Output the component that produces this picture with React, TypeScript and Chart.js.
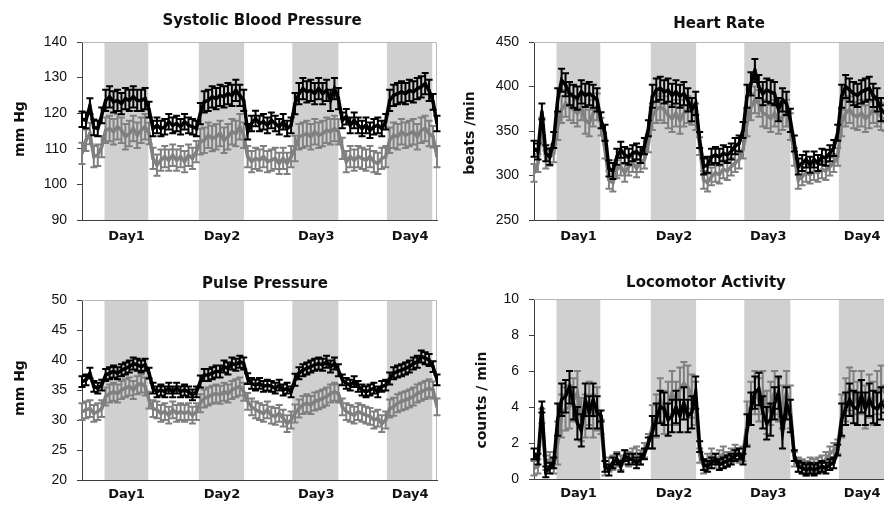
import React, { useEffect, useRef } from 'react';
import { Chart, registerables } from 'chart.js';
Chart.register(...registerables);

// ---------- data ----------
const HOURS = Array.from({ length: 91 }, (_, i) => i);
const DARK_START = [5.7, 29.6, 53.3, 77.3];
const DARK_END = [16.8, 41.1, 65.0, 88.8];
const DAY_LABELS = ['Day1', 'Day2', 'Day3', 'Day4'];
const DAY_TICKS = [11.3, 35.5, 59.4, 83.2];

const SBP_BLACK = [118.3, 118, 122, 116, 115.7, 119.4,
  123.6, 124.6, 123.2, 123.6, 122.7, 124.1, 123.6, 124.6, 123.6, 123.6, 124.1,
  121, 115.7, 116.6, 115.7, 116.2, 117.6, 116.6, 117.1, 116.2, 117.6, 116.6, 116.2, 115.7,
  119.9, 123.2, 123.6, 124.6, 124.1, 125, 124.6, 125.5, 125, 126.4, 125, 123.6,
  114.8, 117.1, 118.5, 117.1, 117.6, 116.6, 118, 117.1, 116.2, 117.6, 115.7, 116.6,
  122.7, 125.5, 126.9, 126, 126.4, 125.5, 126.9, 125.5, 126.4, 123.6, 126.9, 124.1,
  118, 119, 116.6, 118, 116.6, 115.7, 116.6, 115.2, 116.2, 116.6, 115.7, 117.6,
  123.6, 125, 125.5, 126, 125.5, 126.4, 126, 126.9, 127.4, 128.3, 126.4, 123.2, 117.1];
const SBP_GRAY = [108.7, 112.4, 114.3, 107.8, 108.2, 110.6,
  115.2, 115.7, 114.8, 116.2, 115.2, 113.4, 114.3, 115.7, 113.8, 115.2, 116.2,
  114.3, 107.3, 105.4, 106.8, 107.8, 106.8, 108.2, 106.8, 107.8, 106.4, 108.2, 107.3, 109.2,
  112, 112.4, 113.8, 112.9, 113.4, 114.3, 112.4, 113.4, 114.8, 114.3, 116.2, 113.8,
  107.8, 106.4, 107.3, 106.8, 107.8, 106.4, 106.8, 107.3, 105.9, 107.3, 105.9, 107.8,
  110.1, 113.4, 113.8, 114.3, 113.4, 114.8, 113.8, 114.3, 115.2, 114.8, 115.7, 114.8,
  110.1, 106.4, 107.8, 106.8, 107.8, 107.3, 106.8, 107.8, 106.4, 105.9, 107.3, 107.8,
  112.4, 113.8, 113.4, 114.8, 113.8, 114.3, 114.8, 113.4, 115.2, 115.7, 114.3, 113.4, 107.8];
const SBP_SEM_BLACK = [2.2, 3.0]; // [light, dark]
const SBP_SEM_GRAY = [3.0, 3.6];

const HR_BLACK = [330, 327, 372, 325, 321, 340,
  385, 407, 402, 392, 389, 387, 394, 390, 392, 389, 385,
  362, 348, 308, 305, 321, 329, 323, 321, 325, 327, 323, 333, 353,
  389, 396, 398, 394, 396, 390, 394, 389, 392, 385, 374, 381,
  340, 310, 312, 321, 323, 321, 325, 323, 327, 333, 336, 351,
  389, 403, 418, 400, 392, 396, 394, 392, 374, 385, 381, 362,
  336, 310, 314, 318, 312, 318, 314, 321, 320, 325, 331, 348,
  389, 400, 396, 392, 390, 394, 396, 398, 390, 385, 374, 370, 365];
const HR_GRAY = [303, 314, 355, 318, 321, 325,
  355, 374, 381, 377, 374, 370, 377, 362, 359, 370, 377,
  355, 329, 295, 292, 307, 310, 303, 310, 314, 308, 314, 318, 336,
  366, 374, 377, 374, 368, 364, 370, 362, 370, 374, 372, 366,
  333, 295, 292, 299, 303, 301, 307, 305, 310, 314, 318, 329,
  359, 377, 385, 381, 370, 368, 364, 370, 362, 366, 370, 355,
  321, 295, 299, 303, 301, 305, 303, 307, 305, 310, 314, 321,
  359, 370, 374, 368, 366, 370, 364, 368, 374, 370, 366, 360, 355];
const HR_SEM_BLACK = [9, 13];
const HR_SEM_GRAY = [10, 15];

const PP_BLACK = [36.4, 36.7, 37.8, 35.6, 35.3, 35.8,
  37.5, 37.8, 38.1, 37.8, 38.3, 38.6, 38.9, 39.4, 39.2, 38.9, 39.2,
  37.8, 35.3, 34.7, 35, 34.7, 35.3, 34.7, 35.3, 34.7, 35, 34.7, 34.2, 34.7,
  36.4, 37.5, 37.5, 37.8, 38.1, 38.1, 38.9, 38.6, 39.4, 39.2, 39.7, 39.4,
  36.9, 36.1, 35.8, 36.1, 35.6, 35.8, 35.6, 35.3, 35.8, 35, 35.3, 34.7,
  36.7, 37.8, 38.3, 38.6, 38.9, 39.2, 39.4, 39.2, 39.7, 38.9, 39.4, 38.3,
  36.7, 36.1, 35.8, 36.4, 35.6, 35, 34.7, 35, 35.3, 34.7, 35.6, 35.8,
  36.9, 37.8, 38.1, 38.3, 38.6, 38.9, 39.4, 39.7, 40.6, 40.3, 40, 38.9, 36.7];
const PP_GRAY = [31.4, 31.7, 31.9, 31.1, 31.4, 31.9,
  33.9, 34.4, 34.7, 34.4, 35, 35.3, 35.6, 35, 35.8, 36.1, 35.6,
  33.3, 31.9, 31.7, 31.1, 31.4, 30.8, 31.7, 31.1, 31.4, 31.1, 31.4, 30.8, 31.4,
  32.8, 33.6, 33.9, 34.2, 34.4, 34.2, 34.7, 34.4, 35, 35.3, 35.6, 34.7,
  33.1, 32.2, 31.7, 31.4, 31.1, 31.7, 30.8, 30.6, 31.1, 30.3, 29.4, 30,
  31.1, 31.9, 32.5, 32.8, 32.5, 33.1, 33.3, 33.6, 33.9, 34.4, 34.7, 34.4,
  32.2, 31.4, 31.1, 30.8, 31.4, 31.1, 30.8, 30.6, 30, 30.3, 29.4, 30,
  31.9, 32.2, 32.8, 33.1, 33.3, 33.6, 33.9, 34.4, 34.7, 35, 35.3, 35, 32.2];
const PP_SEM_BLACK = [0.9, 1.0];
const PP_SEM_GRAY = [1.4, 1.5];

const LA_BLACK = [1.4, 1.1, 4.0, 0.4, 0.6, 0.9,
  3.3, 4.4, 4.6, 5.1, 4.2, 3.1, 2.7, 4.4, 3.7, 4.4, 3.7,
  3.5, 0.7, 0.5, 0.9, 1.1, 0.7, 1.3, 1.1, 1.1, 0.9, 1.1, 1.4, 2.0,
  2.6, 3.3, 4.0, 3.9, 3.3, 3.5, 4.0, 3.5, 4.2, 3.5, 3.7, 4.8,
  1.8, 0.8, 0.7, 0.9, 1.1, 0.8, 0.9, 1.0, 1.1, 1.3, 1.4, 1.1,
  2.7, 3.9, 4.8, 5.0, 3.7, 3.1, 3.3, 4.2, 4.8, 2.6, 4.2, 3.5,
  1.3, 0.7, 0.6, 0.5, 0.6, 0.5, 0.6, 0.7, 0.6, 0.8, 0.9, 1.6,
  3.3, 3.9, 4.4, 4.0, 3.9, 4.6, 3.9, 4.4, 4.0, 3.9, 4.2, 4.0, 3.8];
const LA_GRAY = [0.6, 0.7, 3.5, 0.9, 1.1, 0.7,
  2.0, 3.5, 3.9, 4.0, 4.4, 4.8, 3.3, 3.5, 4.2, 3.5, 3.9,
  2.9, 0.6, 0.8, 0.9, 1.1, 0.9, 1.2, 1.1, 1.3, 1.4, 1.2, 1.6, 2.1,
  2.9, 3.5, 4.4, 3.7, 4.2, 4.8, 4.2, 5.0, 5.3, 5.1, 4.6, 4.2,
  1.3, 0.7, 1.0, 1.3, 1.0, 1.2, 1.4, 1.1, 1.3, 1.5, 1.3, 1.4,
  3.1, 4.2, 4.8, 4.4, 4.8, 3.7, 4.2, 4.8, 4.4, 4.0, 4.8, 4.0,
  1.1, 0.8, 0.7, 0.6, 0.8, 0.7, 0.8, 0.9, 1.1, 1.4, 1.6, 1.8,
  3.5, 4.4, 5.0, 4.8, 4.2, 4.8, 4.0, 4.6, 4.2, 4.8, 5.1, 4.8, 4.5];
const LA_SEM_BLACK = [0.3, 0.9];
const LA_SEM_GRAY = [0.4, 1.2];

// ---------- styling ----------
const BLACK = '#000000';
const GRAY = '#808080';
const BAND = '#d0d0d0';
const AXIS = '#404040';
const TEXT = '#111111';
const TITLE_FONT = "bold 15px 'DejaVu Sans', Verdana, sans-serif";
const YTITLE_FONT = "bold 14px 'DejaVu Sans', Verdana, sans-serif";

type Panel = {
  title: string; yTitle: string;
  black: number[]; gray: number[]; semBlack: number[]; semGray: number[];
  min: number; max: number; step: number;
  left: number; top: number; w: number; h: number;
  areaLeft: number; areaRight: number; areaTop: number; areaBottom: number;
  titleX: number; titleY: number; yTitleX: number; yTitleY: number; xPad: number;
};

const PANELS: Panel[] = [
  { title: 'Systolic Blood Pressure', yTitle: 'mm Hg', black: SBP_BLACK, gray: SBP_GRAY,
    semBlack: SBP_SEM_BLACK, semGray: SBP_SEM_GRAY, min: 90, max: 140, step: 10,
    left: 0, top: 0, w: 442, h: 252, areaLeft: 82, areaRight: 437, areaTop: 42, areaBottom: 220,
    titleX: 262, titleY: 21, yTitleX: 20, yTitleY: 129, xPad: 9 },
  { title: 'Heart Rate', yTitle: 'beats /min', black: HR_BLACK, gray: HR_GRAY,
    semBlack: HR_SEM_BLACK, semGray: HR_SEM_GRAY, min: 250, max: 450, step: 50,
    left: 442, top: 0, w: 452, h: 252, areaLeft: 92, areaRight: 447, areaTop: 42, areaBottom: 220,
    titleX: 277, titleY: 24, yTitleX: 28, yTitleY: 133, xPad: 9 },
  { title: 'Pulse Pressure', yTitle: 'mm Hg', black: PP_BLACK, gray: PP_GRAY,
    semBlack: PP_SEM_BLACK, semGray: PP_SEM_GRAY, min: 20, max: 50, step: 5,
    left: 0, top: 252, w: 442, h: 253, areaLeft: 82, areaRight: 437, areaTop: 48, areaBottom: 228,
    titleX: 265, titleY: 32, yTitleX: 20, yTitleY: 136, xPad: 7 },
  { title: 'Locomotor Activity', yTitle: 'counts / min', black: LA_BLACK, gray: LA_GRAY,
    semBlack: LA_SEM_BLACK, semGray: LA_SEM_GRAY, min: 0, max: 10, step: 2,
    left: 442, top: 252, w: 452, h: 253, areaLeft: 92, areaRight: 447, areaTop: 47, areaBottom: 227,
    titleX: 264, titleY: 31, yTitleX: 40, yTitleY: 148, xPad: 7 },
];

function isDark(h: number) {
  return DARK_START.some((s, k) => h >= s && h <= DARK_END[k]);
}

function makePlugin(p: Panel) {
  return {
    id: 'panelDeco',
    beforeDatasetsDraw(chart: any) {
      const { ctx, chartArea: a, scales } = chart;
      const x = scales.x;
      ctx.save();
      ctx.fillStyle = BAND;
      DARK_START.forEach((s, k) => {
        const x0 = Math.max(a.left, x.getPixelForValue(s));
        const x1 = Math.min(a.right, x.getPixelForValue(DARK_END[k]));
        ctx.fillRect(x0, a.top, x1 - x0, a.bottom - a.top);
      });
      ctx.strokeStyle = '#b8b8b8';
      ctx.lineWidth = 1;
      ctx.beginPath();
      ctx.moveTo(a.left, a.top + 0.5);
      ctx.lineTo(a.right - 0.5, a.top + 0.5);
      ctx.lineTo(a.right - 0.5, a.bottom);
      ctx.stroke();
      ctx.restore();
    },
    afterDatasetDraw(chart: any, args: any) {
      const ds = chart.data.datasets[args.index];
      const sem: number[] = ds.sem;
      const y = chart.scales.y;
      const ctx = chart.ctx;
      ctx.save();
      ctx.strokeStyle = ds.borderColor;
      ctx.lineWidth = 2;
      ctx.beginPath();
      args.meta.data.forEach((pt: any, i: number) => {
        const v = ds.data[i].y;
        const e = isDark(ds.data[i].x) ? sem[1] : sem[0];
        const yt = y.getPixelForValue(v + e);
        const yb = y.getPixelForValue(v - e);
        ctx.moveTo(pt.x, yt); ctx.lineTo(pt.x, yb);
        ctx.moveTo(pt.x - 3.5, yt); ctx.lineTo(pt.x + 3.5, yt);
        ctx.moveTo(pt.x - 3.5, yb); ctx.lineTo(pt.x + 3.5, yb);
      });
      ctx.stroke();
      ctx.restore();
    },
    afterDraw(chart: any) {
      const ctx = chart.ctx;
      ctx.save();
      ctx.fillStyle = TEXT;
      ctx.textAlign = 'center';
      ctx.textBaseline = 'middle';
      ctx.font = TITLE_FONT;
      ctx.fillText(p.title, p.titleX, p.titleY);
      ctx.translate(p.yTitleX, p.yTitleY);
      ctx.rotate(-Math.PI / 2);
      ctx.font = YTITLE_FONT;
      ctx.fillText(p.yTitle, 0, 0);
      ctx.restore();
    },
  };
}

function buildConfig(p: Panel): any {
  const series = (vals: number[]) => HOURS.map((h, i) => ({ x: h, y: vals[i] }));
  return {
    type: 'line',
    data: {
      datasets: [
        { data: series(p.black), sem: p.semBlack, borderColor: BLACK, backgroundColor: BLACK,
          borderWidth: 3.5, pointRadius: 2, pointStyle: 'rect', pointBorderWidth: 0, tension: 0 },
        { data: series(p.gray), sem: p.semGray, borderColor: GRAY, backgroundColor: GRAY,
          borderWidth: 3.5, pointRadius: 2, pointStyle: 'rect', pointBorderWidth: 0, tension: 0 },
      ],
    },
    options: {
      animation: false,
      responsive: false,
      events: [],
      layout: { padding: { left: 0, top: p.areaTop, right: p.w - p.areaRight, bottom: 0 } },
      plugins: { legend: { display: false }, tooltip: { enabled: false }, title: { display: false } },
      scales: {
        x: {
          type: 'linear', min: 0, max: 90,
          afterBuildTicks: (s: any) => { s.ticks = DAY_TICKS.map((v) => ({ value: v })); },
          afterFit: (s: any) => { s.height = p.h - p.areaBottom; },
          ticks: {
            autoSkip: false, maxRotation: 0, padding: p.xPad, color: TEXT,
            font: { family: "'DejaVu Sans', Verdana, sans-serif", weight: 'bold', size: 13 },
            callback: (_v: any, i: number) => DAY_LABELS[i],
          },
          grid: { drawOnChartArea: false, drawTicks: false },
          border: { display: true, color: AXIS, width: 1 },
        },
        y: {
          min: p.min, max: p.max,
          afterFit: (s: any) => { s.width = p.areaLeft; },
          ticks: {
            stepSize: p.step, padding: 10, color: TEXT,
            font: { family: "'Liberation Sans', Arial, sans-serif", size: 14 },
          },
          grid: { drawOnChartArea: false, drawTicks: true, tickLength: 5, color: AXIS },
          border: { display: true, color: AXIS, width: 1 },
        },
      },
    },
    plugins: [makePlugin(p)],
  };
}

function PanelChart({ p }: { p: Panel }) {
  const ref = useRef<HTMLCanvasElement>(null);
  useEffect(() => {
    const chart = new Chart(ref.current as HTMLCanvasElement, buildConfig(p));
    return () => chart.destroy();
  }, [p]);
  return (
    <canvas ref={ref} width={p.w} height={p.h}
      style={{ position: 'absolute', left: p.left, top: p.top, width: p.w, height: p.h }} />
  );
}

export default function App() {
  return (
    <div style={{ position: 'fixed', left: 0, top: 0, width: 884, height: 505, overflow: 'hidden', background: '#fff' }}>
      {PANELS.map((p) => <PanelChart key={p.title} p={p} />)}
    </div>
  );
}
